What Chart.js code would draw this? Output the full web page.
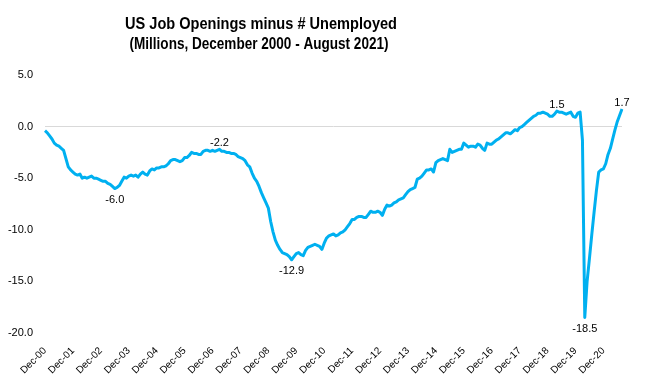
<!DOCTYPE html>
<html>
<head>
<meta charset="utf-8">
<style>
  html, body { margin: 0; padding: 0; background: #fff; }
  #wrap { width: 646px; height: 385px; position: relative; }
</style>
</head>
<body>
<div id="wrap"><canvas id="gapChart"></canvas></div>

<script src="https://cdn.jsdelivr.net/npm/chart.js@4"></script>
<script>
  // Job openings minus number unemployed, millions, monthly Dec 2000 - Aug 2021
  const v2000 = [-0.4];
  const v2001 = [-0.6, -0.9, -1.2, -1.6, -1.8, -1.9, -2.1, -2.3, -3.1, -3.9, -4.2, -4.4];
  const v2002 = [-4.6, -4.7, -4.6, -5.0, -4.9, -5.0, -4.9, -4.8, -5.0, -5.0, -5.1, -5.2];
  const v2003 = [-5.3, -5.3, -5.5, -5.6, -5.8, -6.0, -5.9, -5.7, -5.3, -4.9, -5.0, -4.8];
  const v2004 = [-4.7, -4.8, -4.7, -4.9, -4.6, -4.4, -4.6, -4.7, -4.3, -4.1, -4.2, -4.0];
  const v2005 = [-4.0, -3.9, -3.9, -3.8, -3.6, -3.3, -3.2, -3.2, -3.3, -3.4, -3.3, -3.0];
  const v2006 = [-3.0, -2.8, -2.5, -2.6, -2.6, -2.7, -2.7, -2.4, -2.3, -2.3, -2.4, -2.3];
  const v2007 = [-2.4, -2.3, -2.2, -2.4, -2.4, -2.5, -2.5, -2.6, -2.6, -2.7, -2.9, -3.0];
  const v2008 = [-3.1, -3.3, -3.7, -3.9, -4.5, -5.0, -5.3, -5.8, -6.4, -6.9, -7.4, -7.9];
  const v2009 = [-9.2, -10.2, -11.0, -11.5, -11.9, -12.2, -12.3, -12.4, -12.6, -12.9, -12.6, -12.3];
  const v2010 = [-12.2, -12.4, -12.5, -12.0, -11.7, -11.6, -11.5, -11.4, -11.5, -11.6, -11.9, -11.3];
  const v2011 = [-10.8, -10.6, -10.5, -10.4, -10.6, -10.5, -10.3, -10.2, -10.0, -9.7, -9.4, -9.0];
  const v2012 = [-9.0, -8.8, -8.7, -8.7, -8.8, -8.8, -8.5, -8.2, -8.3, -8.3, -8.2, -8.3];
  const v2013 = [-8.6, -8.0, -7.6, -7.7, -7.6, -7.4, -7.3, -7.1, -7.0, -6.9, -6.6, -6.3];
  const v2014 = [-6.1, -6.0, -5.9, -5.1, -5.0, -4.8, -4.5, -4.2, -4.2, -4.1, -4.4, -3.5];
  const v2015 = [-3.3, -3.2, -3.1, -3.2, -3.3, -2.2, -2.5, -2.4, -2.3, -2.2, -2.2, -1.6];
  const v2016 = [-1.8, -2.0, -1.9, -1.9, -2.0, -1.7, -1.8, -2.1, -2.3, -1.6, -1.7, -1.7];
  const v2017 = [-1.5, -1.3, -1.2, -1.0, -0.8, -0.6, -0.6, -0.7, -0.5, -0.3, -0.4, -0.1];
  const v2018 = [0.0, 0.2, 0.4, 0.6, 0.8, 1.0, 1.1, 1.3, 1.3, 1.4, 1.3, 1.2];
  const v2019 = [1.0, 1.0, 1.2, 1.5, 1.4, 1.4, 1.3, 1.2, 1.3, 1.4, 1.0, 0.9];
  const v2020 = [1.3, 1.4, -1.3, -18.5, -15.0, -12.8, -10.5, -8.3, -6.2, -4.4, -4.2, -4.1];
  const v2021 = [-3.6, -2.7, -2.1, -1.2, -0.3, 0.5, 1.1, 1.7];

  const monthNames = ['Jan', 'Feb', 'Mar', 'Apr', 'May', 'Jun', 'Jul', 'Aug', 'Sep', 'Oct', 'Nov', 'Dec'];
  const yTicks = [5, 0, -5, -10, -15, -20];

  // points that carry a value label, and whether it sits below the line
  const annotated      = ['Jun-03', 'Mar-07', 'Oct-09', 'Apr-19', 'Apr-20', 'Aug-21'];
  const annotatedBelow = [true, false, true, false, true, false];

  const titleLines = ['US Job Openings minus # Unemployed', '(Millions, December 2000 - August 2021)'];

  const values = [].concat(v2000, v2001, v2002, v2003, v2004, v2005, v2006, v2007, v2008, v2009,
    v2010, v2011, v2012, v2013, v2014, v2015, v2016, v2017, v2018, v2019, v2020, v2021);

  // month labels Dec-00 ... Aug-21
  const months = [];
  for (let i = 0; i < values.length; i++) {
    const k = 11 + i;
    const yy = String(Math.floor(k / 12)).padStart(2, '0');
    months.push(monthNames[k % 12] + '-' + yy);
  }

  const FONT = '"Liberation Sans", Arial, sans-serif';

  const titlePlugin = {
    id: 'excelTitle',
    afterDraw(chart) {
      const c = chart.ctx;
      c.save();
      c.fillStyle = '#000';
      c.textAlign = 'center';
      c.textBaseline = 'alphabetic';
      c.font = 'bold 17px ' + FONT;
      c.fillText(titleLines[0], 261, 29, 272);
      c.font = 'bold 16px ' + FONT;
      c.fillText(titleLines[1], 259, 49, 259);
      c.restore();
    }
  };

  const pointLabels = {
    id: 'pointLabels',
    afterDatasetsDraw(chart) {
      const c = chart.ctx;
      const meta = chart.getDatasetMeta(0);
      c.save();
      c.fillStyle = '#000';
      c.font = '11px ' + FONT;
      c.textAlign = 'center';
      c.textBaseline = 'middle';
      annotated.forEach((m, k) => {
        const i = months.indexOf(m);
        const pt = meta.data[i];
        c.fillText(values[i].toFixed(1), pt.x, pt.y + (annotatedBelow[k] ? 11 : -6));
      });
      c.restore();
    }
  };

  new Chart(document.getElementById('gapChart'), {
    type: 'line',
    data: {
      labels: months,
      datasets: [{
        data: values,
        borderColor: '#00B0F0',
        borderWidth: 3,
        pointRadius: 0,
        tension: 0,
        borderJoinStyle: 'round',
        fill: false
      }]
    },
    options: {
      responsive: true,
      maintainAspectRatio: false,
      animation: false,
      layout: { padding: { top: 75, right: 24, bottom: 0, left: 0 } },
      plugins: {
        legend: { display: false },
        tooltip: { enabled: false },
        title: { display: false }
      },
      scales: {
        x: {
          grid: { display: false },
          border: { display: false },
          ticks: {
            autoSkip: false,
            minRotation: 45,
            maxRotation: 45,
            color: '#000',
            font: { family: FONT, size: 10 },
            padding: 4,
            callback(val) {
              const l = this.getLabelForValue(val);
              return l.startsWith('Dec') ? l : '';
            }
          },
          afterFit(scale) { scale.height = 52; }
        },
        y: {
          min: yTicks[yTicks.length - 1],
          max: yTicks[0],
          border: { display: false },
          grid: {
            drawTicks: false,
            color: ctx => ctx.tick && ctx.tick.value === 0 ? '#d9d9d9' : 'rgba(0,0,0,0)'
          },
          afterBuildTicks(scale) { scale.ticks = yTicks.map(v => ({ value: v })); },
          ticks: {
            color: '#000',
            font: { family: FONT, size: 11 },
            padding: 12,
            callback: v => v.toFixed(1)
          },
          afterFit(scale) { scale.width = 45; }
        }
      }
    },
    plugins: [titlePlugin, pointLabels]
  });
</script>
</body>
</html>
